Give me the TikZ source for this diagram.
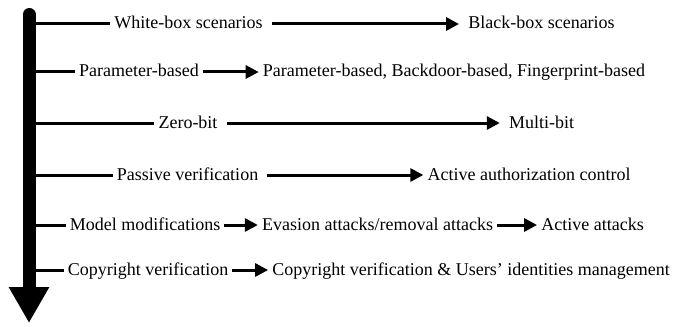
\documentclass[tikz,border=0pt]{standalone}
\usepackage{fontspec}
\setmainfont{Liberation Serif}
\usetikzlibrary{arrows.meta}
\tikzset{
  stage/.style={inner xsep=4pt, inner ysep=0pt, text height=13pt, text depth=3pt},
  link/.style={line width=3pt},
  flow/.style={line width=3pt, -{Triangle[length=13pt,width=13pt]}}
}

\begin{document}
\begin{tikzpicture}[x=1pt, y=-1pt, font=\fontsize{18}{21}\selectfont]
  \useasboundingbox (0,0) rectangle (676,326);
  % time line
  \coordinate (top) at (29,14.5);
  \coordinate (bot) at (29,323);
  \draw[line width=13pt, line cap=round, -{Triangle[length=36pt,width=38pt]}]
    (top) -- (bot);

  \node[stage] (wb) at (188.5,24) {White-box scenarios};
  \node[stage] (bb) at (541.5,24) {Black-box scenarios};

  \node[stage] (pb) at (139,72) {Parameter-based};
  \node[stage] (pbf) at (454,72) {Parameter-based, Backdoor-based, Fingerprint-based};

  \node[stage] (zb) at (188,123) {Zero-bit};
  \node[stage] (mb) at (541.5,123) {Multi-bit};

  \node[stage] (pv) at (187.5,175) {Passive verification};
  \node[stage] (aa) at (529,175) {Active authorization control};

  \node[stage] (mm) at (145,225) {Model modifications};
  \node[stage] (ev) at (377.5,225) {Evasion attacks/removal attacks};
  \node[stage] (at) at (592.5,225) {Active attacks};

  \node[stage] (cv) at (148,270) {Copyright verification};
  \node[stage] (cu) at (471,270) {Copyright verification \& Users’ identities management};

  % branches from the time line
  \foreach \n/\y in {wb/24, pb/72, zb/123, pv/175, mm/225, cv/270}{
    \coordinate (s\n) at (29,\y);
    \draw[link] (s\n) -- (s\n -| \n.west);
  }

  \draw[flow, shorten <=5pt, shorten >=5pt] (wb) -- (bb);
  \draw[flow] (pb) -- (pbf);
  \draw[flow, shorten <=5pt, shorten >=5pt] (zb) -- (mb);
  \draw[flow, shorten <=5pt] (pv) -- (aa);
  \draw[flow] (mm) -- (ev);
  \draw[flow] (ev) -- (at);
  \draw[flow] (cv) -- (cu);
\end{tikzpicture}
\end{document}
